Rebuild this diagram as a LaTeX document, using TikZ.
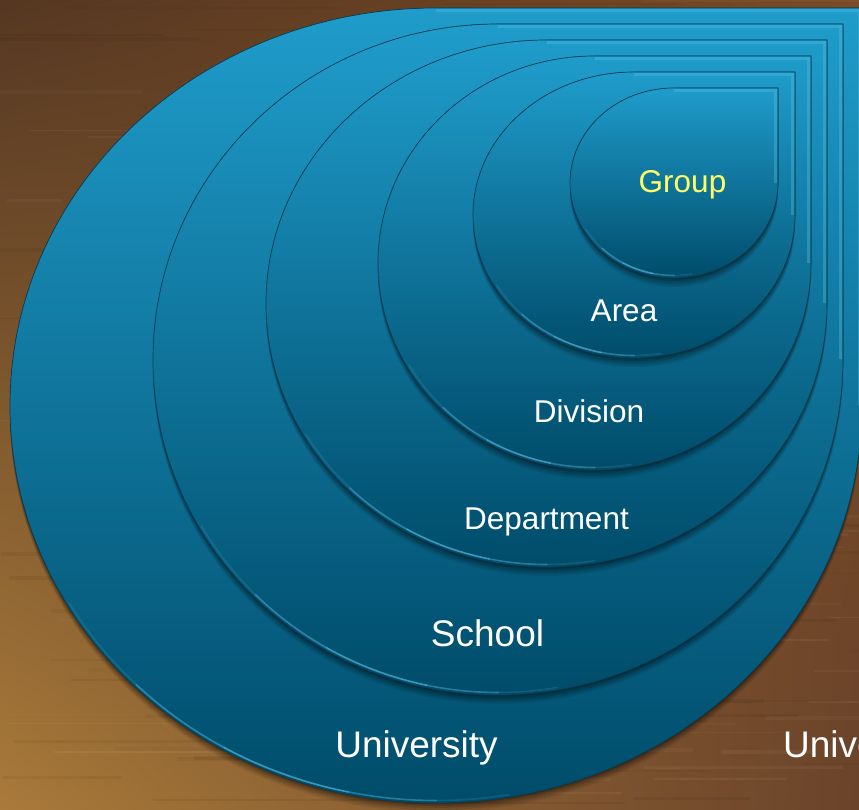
\documentclass[tikz,border=0pt]{standalone}
\usepackage{fontspec}
\setmainfont{Liberation Sans}
\usetikzlibrary{shadings}
\definecolor{woodUL}{HTML}{553722}
\definecolor{woodUR}{HTML}{7A4A24}
\definecolor{woodLL}{HTML}{A97A3A}
\definecolor{woodLR}{HTML}{6A432A}
\definecolor{blueTop}{HTML}{1F9CCB}
\definecolor{blueBot}{HTML}{004C6A}
\definecolor{blueEdge}{HTML}{083F57}
\definecolor{blueHi}{HTML}{5BC0E6}
\definecolor{grpYellow}{HTML}{FFFF66}
\tikzset{
  lbl/.style={text=white, font=\fontsize{31.5}{36}\selectfont, anchor=base, inner sep=0pt},
  biglbl/.style={lbl, font=\fontsize{37}{42}\selectfont},
  outline/.style={draw=blueEdge, line width=0.7pt},
  hilite/.style={draw=blueHi, line width=1.6pt, line cap=round},
}
\newcommand\tdset[4]{%
  \pgfmathsetmacro\tdL{#1}\pgfmathsetmacro\tdR{#2}%
  \pgfmathsetmacro\tdT{809-#3}%
  \pgfmathsetmacro\tdcx{(#1+#2)/2}\pgfmathsetmacro\tdrx{(#2-#1)/2}%
  \pgfmathsetmacro\tdcy{809-(#3+#4)/2}\pgfmathsetmacro\tdry{(#4-#3)/2}%
  \pgfmathsetmacro\tdrxh{\tdrx-2.5}\pgfmathsetmacro\tdryh{\tdry-2.5}%
}
\newcommand\tdp{(\tdL,\tdcy) arc[start angle=180,end angle=90,x radius=\tdrx pt,y radius=\tdry pt] -- (\tdR,\tdT) -- (\tdR,\tdcy) arc[start angle=0,end angle=-180,x radius=\tdrx pt,y radius=\tdry pt] -- cycle}
\newcommand\tdrop[4]{%
  \tdset{#1}{#2}{#3}{#4}%
  \foreach \s/\o in {9/0.08,7/0.10,5/0.12,3/0.14,1.5/0.18}{\fill[black,opacity=\o,yshift=-\s pt] \tdp;}%
  \fill[top color=blueTop,bottom color=blueBot] \tdp;%
  \draw[blueHi,line width=3pt,opacity=0.35] (\tdcx,\tdT-2.5) -- (\tdR-2.5,\tdT-2.5) -- (\tdR-2.5,\tdcy);%
  \draw[outline] \tdp;%
  \foreach \a/\b/\o in {-150/-135/0.15,-135/-120/0.45,-120/-102/0.65,-102/-90/0.4,-90/-80/0.15}{%
    \draw[hilite,opacity=\o] (\tdcx,\tdcy) ++(\a:\tdrxh pt and \tdryh pt) arc[start angle=\a,end angle=\b,x radius=\tdrxh pt,y radius=\tdryh pt];}%
}
\begin{document}
\begin{tikzpicture}[x=1pt,y=1pt]
\useasboundingbox (0,0) rectangle (859,809);
\clip (0,0) rectangle (859,809);
% wooden background
\fill[upper left=woodUL, upper right=woodUR, lower left=woodLL, lower right=woodLR] (0,0) rectangle (859,809);
\pgfmathsetseed{12}
\foreach \i in {1,...,220}{
  \pgfmathsetmacro\wy{rnd*809}
  \pgfmathsetmacro\wx{rnd*900-40}
  \pgfmathsetmacro\wl{40+rnd*260}
  \pgfmathsetmacro\ww{1+rnd*3}
  \pgfmathsetmacro\wo{0.02+rnd*0.04}
  \ifodd\i \def\wc{black}\else\def\wc{white}\fi
  \draw[\wc,opacity=\wo,line width=\ww pt] (\wx,\wy) -- ++(\wl,0);
}
% nested teardrops (L, R, T, B in pixel coordinates, y downwards)
\tdrop{10}{862}{8}{803}
\tdrop{153}{843}{24}{695}
\tdrop{266}{827}{40}{567}
\tdrop{378}{811}{56}{470}
\tdrop{473}{795}{72}{358}
\tdrop{570}{778}{88}{278}
% labels
\node[lbl, text=grpYellow] (grp) at (682.5,616) {Group};
\node[lbl] (area) at (624,487) {Area};
\node[lbl] (div) at (589,386) {Division};
\node[lbl] (dept) at (546.5,279) {Department};
\node[biglbl] (school) at (487.5,163) {School};
\node[biglbl] (univ) at (416.5,52) {University};
\node[biglbl, anchor=base west] (univb) at (783,52) {University};
\end{tikzpicture}
\end{document}
